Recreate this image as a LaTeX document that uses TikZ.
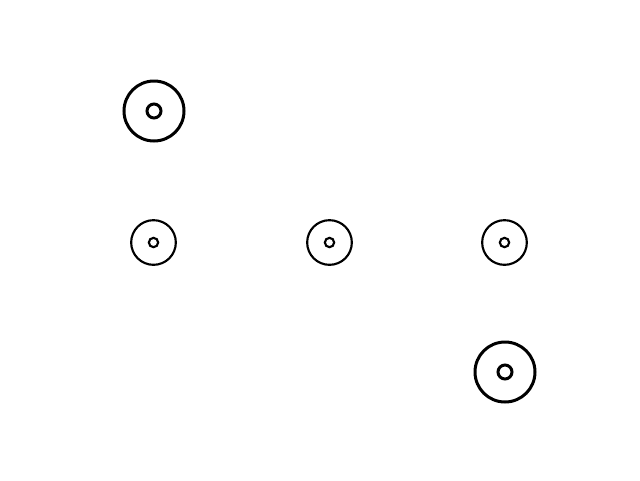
\documentclass[tikz,border=0pt]{standalone}
\begin{document}
\begin{tikzpicture}[x=0.75pt,y=-0.75pt,
  bigring/.style={circle,draw=black,line width=2.25pt,minimum size=45pt,inner sep=0pt},
  bigdot/.style={circle,draw=black,line width=2.25pt,minimum size=10.5pt,inner sep=0pt},
  smallring/.style={circle,draw=black,line width=1.6pt,minimum size=33.5pt,inner sep=0pt},
  smalldot/.style={circle,draw=black,line width=1.6pt,minimum size=7pt,inner sep=0pt}]
\useasboundingbox (0,0) rectangle (640,480);
\node[bigring] (a) at (154,111) {};
\node[bigdot] (ad) at (154,111) {};
\node[smallring] (b) at (153.5,242.5) {};
\node[smalldot] (bd) at (153.5,242.5) {};
\node[smallring] (c) at (329.5,242.5) {};
\node[smalldot] (cd) at (329.5,242.5) {};
\node[smallring] (d) at (504.5,242.5) {};
\node[smalldot] (dd) at (504.5,242.5) {};
\node[bigring] (e) at (505,372) {};
\node[bigdot] (ed) at (505,372) {};
\end{tikzpicture}
\end{document}
